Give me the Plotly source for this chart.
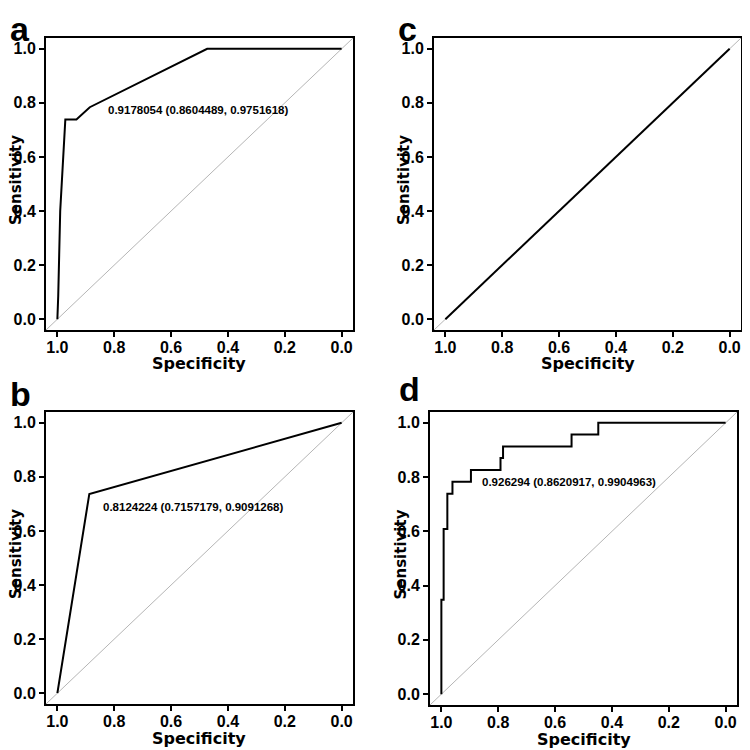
import plotly.graph_objects as go

# ---------------- data ----------------
tick_vals = [1.0, 0.8, 0.6, 0.4, 0.2, 0.0]
tick_text = ["1.0", "0.8", "0.6", "0.4", "0.2", "0.0"]

spec_a = [1.0, 0.997, 0.99, 0.972, 0.933, 0.921, 0.905, 0.886, 0.473, 0.0]
sens_a = [0.0, 0.086, 0.4, 0.739, 0.739, 0.75, 0.768, 0.784, 1.0, 1.0]
auc_a = "0.9178054 (0.8604489, 0.9751618)"

spec_b = [1.0, 0.8876, 0.0]
sens_b = [0.0, 0.737, 1.0]
auc_b = "0.8124224 (0.7157179, 0.9091268)"

spec_c = [1.0, 0.0]
sens_c = [0.0, 1.0]

spec_d = [1.0, 0.992, 0.979, 0.961, 0.896, 0.792, 0.783, 0.542, 0.448, 0.0]
sens_d = [0.0, 0.348, 0.609, 0.739, 0.783, 0.826, 0.870, 0.913, 0.957, 1.0]
auc_d = "0.926294 (0.8620917, 0.9904963)"

diag_x = [1.04, -0.04]
diag_y = [-0.04, 1.04]

panel_labels = ["a", "b", "c", "d"]

# The page body has an 8px margin, so the figure is drawn 8px in from the window corner.
OFF = 8
W = H = 742


def px(xp):
    return (xp - OFF) / W


def py(yp):
    return 1 - (yp - OFF) / H


# panel boxes in window pixels: (left, right, top, bottom)
boxes = {
    "a": (46, 353, 38, 330),
    "c": (434, 741, 38, 330),
    "b": (46, 353, 412, 704),
    "d": (430, 737, 412, 705),
}
axis_ids = {"a": "", "c": "2", "b": "3", "d": "4"}
# top of each panel-letter text box (window pixels)
label_pos = {"a": (8, 8), "c": (396, 8), "b": (8, 373), "d": (397, 368)}

fig = go.Figure()

TICK_FONT = dict(family="Liberation Sans, Arial", size=16, color="black", weight="bold")
TITLE_FONT = dict(family="DejaVu Sans", size=16, color="black", weight="bold")
AUC_FONT = dict(family="Liberation Sans, Arial", size=11.5, color="black", weight="bold")

curves = {
    "a": (spec_a, sens_a, "linear"),
    "b": (spec_b, sens_b, "linear"),
    "c": (spec_c, sens_c, "linear"),
    "d": (spec_d, sens_d, "vh"),
}
auc_texts = {"a": (auc_a, 0.829, 0.774), "b": (auc_b, 0.848, 0.689), "d": (auc_d, 0.865, 0.782)}

for p in ["a", "b", "c", "d"]:
    aid = axis_ids[p]
    xa, ya = "x" + aid, "y" + aid
    l, r, t, b = boxes[p]
    fig.add_trace(go.Scatter(x=diag_x, y=diag_y, mode="lines", xaxis=xa, yaxis=ya,
                             line=dict(color="#b5b5b5", width=1), showlegend=False, hoverinfo="skip"))
    sx, sy, shape = curves[p]
    fig.add_trace(go.Scatter(x=sx, y=sy, mode="lines", xaxis=xa, yaxis=ya,
                             line=dict(color="black", width=2, shape=shape), showlegend=False))
    common = dict(showgrid=False, zeroline=False, showline=True, linecolor="black", linewidth=2,
                  mirror=True, ticks="outside", ticklen=5, tickwidth=1.5, tickcolor="black",
                  tickvals=tick_vals, ticktext=tick_text, tickfont=TICK_FONT)
    fig.update_layout(**{
        "xaxis" + aid: dict(domain=[px(l), px(r)], range=[1.04, -0.04], anchor=ya,
                            ticklabelstandoff=-3, **common),
        "yaxis" + aid: dict(domain=[py(b), py(t)], range=[-0.04, 1.04], anchor=xa, **common),
    })
    # axis titles
    fig.add_annotation(text="Specificity", xref="paper", yref="paper",
                       x=px((l + r) / 2), y=py(b + 34), xanchor="center", yanchor="middle",
                       showarrow=False, font=TITLE_FONT)
    fig.add_annotation(text="Sensitivity", xref="paper", yref="paper", textangle=-90,
                       x=px(l - 30), y=py((t + b) / 2 - 4), xanchor="center", yanchor="middle",
                       showarrow=False, font=dict(family="DejaVu Sans", size=15, color="black", weight="bold"))
    # panel label
    lx, ly = label_pos[p]
    fig.add_annotation(text=p, xref="paper", yref="paper",
                       x=px(lx), y=py(ly), xanchor="left", yanchor="top",
                       showarrow=False, font=dict(family="Liberation Sans, Arial", size=34, color="black", weight="bold"))
    if p in auc_texts:
        txt, ax, ay = auc_texts[p]
        fig.add_annotation(text=txt, xref=xa, yref=ya, x=ax, y=ay, xanchor="left", yanchor="middle",
                           showarrow=False, font=AUC_FONT)

fig.update_layout(width=W, height=H, margin=dict(l=0, r=0, t=0, b=0),
                  paper_bgcolor="white", plot_bgcolor="white")

fig.write_html("out.html")
